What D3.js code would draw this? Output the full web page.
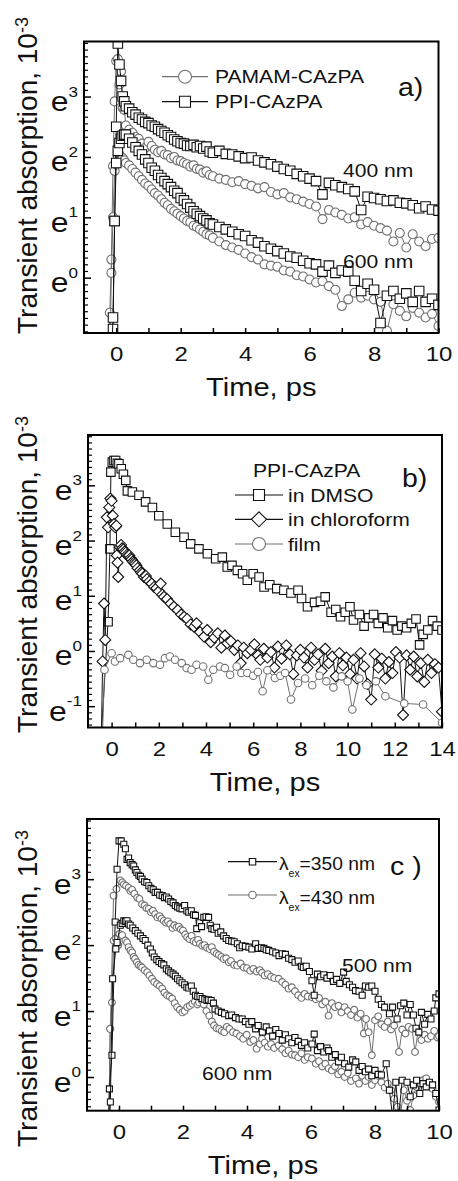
<!DOCTYPE html>
<html>
<head>
<meta charset="utf-8">
<script src="https://cdn.jsdelivr.net/npm/d3@7"></script>
<style>
  body { margin: 0; background: #fff; }
  svg { display: block; }
  text { font-family: "Liberation Sans", Arial, sans-serif; fill: #111; }
</style>
</head>
<body>
<svg id="fig" width="458" height="1181"></svg>
<script>
// ---- panel a) : values are ln(transient absorption / 10^-3) ----
var aTime = [-0.25,-0.2,-0.15,-0.1,-0.05,0,0.05,0.1,0.15,0.2,0.25,0.3,
  0.4,0.5,0.6,0.7,0.8,0.9,1.0,1.1,1.2,1.3,1.4,1.5,1.6,1.7,1.8,1.9,2.0,2.1,2.2,2.3,2.4,2.5,2.6,2.7,2.8,2.9,3.0,
  3.2,3.4,3.6,3.8,4.0,4.2,4.4,4.6,4.8,5.0,5.2,5.4,5.6,5.8,6.0,6.2,6.4,6.6,6.8,7.0,7.2,7.4,7.6,7.8,8.0,8.2,8.4,8.6,8.8,9.0,9.2,9.4,9.6,9.8,10.0];

var aPamam400 = [-1.6,-0.58,0.3,1.85,2.92,3.59,3.62,3.2,3.42,2.81,2.78,2.52,
  2.45,2.40,2.33,2.30,2.22,2.15,2.25,2.18,2.12,2.08,2.10,2.04,2.03,1.98,2.00,1.94,1.93,1.90,1.88,1.84,1.86,1.80,1.79,1.74,1.76,1.70,1.68,
  1.64,1.62,1.58,1.60,1.55,1.52,1.48,1.50,1.42,1.38,1.40,1.33,1.30,1.26,1.22,1.18,0.97,1.12,1.08,1.04,0.98,1.00,0.88,0.92,0.86,0.82,0.78,0.60,0.74,0.50,0.72,0.60,0.52,0.64,0.66];

var aPamam600 = [-1.6,-1.4,0.08,1.0,1.77,1.87,2.02,2.04,1.99,1.98,1.94,1.90,
  1.86,1.80,1.74,1.68,1.62,1.56,1.52,1.46,1.40,1.36,1.30,1.24,1.20,1.14,1.10,1.06,1.02,0.98,0.94,0.92,0.86,0.84,0.80,0.76,0.72,0.70,0.66,
  0.60,0.54,0.50,0.46,0.40,0.34,0.30,0.22,0.20,0.18,0.12,0.10,0.04,0.02,-0.03,-0.08,-0.06,-0.14,-0.20,-0.47,-0.36,-0.25,-0.33,-0.30,-0.36,-0.40,-0.88,-0.44,-0.55,-0.64,-0.50,-0.58,-0.66,-0.60,-0.80];

var aPpi400 = [-1.6,-1.6,-1.4,-0.85,0.94,2.5,3.88,3.53,3.26,3.0,2.92,2.84,
  2.80,2.74,2.70,2.65,2.62,2.58,2.56,2.52,2.50,2.46,2.43,2.40,2.36,2.33,2.29,2.26,2.23,2.22,2.19,2.18,2.20,2.16,2.18,2.14,2.17,2.09,2.07,
  2.10,2.05,2.04,2.01,1.98,1.99,1.94,1.91,1.88,1.84,1.80,1.77,1.72,1.68,1.64,1.60,1.38,1.57,1.53,1.50,1.47,1.43,1.12,1.34,1.32,1.30,1.27,1.28,1.24,1.23,1.20,1.15,1.18,1.13,1.11];

var aPpi600 = [-1.6,-1.6,-1.4,-0.66,0.94,1.9,2.1,2.23,2.3,2.35,2.37,2.37,
  2.30,2.24,2.16,2.10,2.04,1.96,1.90,1.82,1.77,1.70,1.65,1.60,1.55,1.50,1.44,1.40,1.32,1.28,1.22,1.16,1.10,1.06,1.02,0.98,0.95,0.90,0.88,
  0.84,0.80,0.76,0.72,0.69,0.62,0.58,0.52,0.48,0.44,0.40,0.35,0.33,0.28,0.24,0.22,0.10,0.20,0.08,0.12,0.10,-0.05,-0.22,-0.10,-0.20,-0.75,-0.30,-0.22,-0.35,-0.26,-0.40,-0.22,-0.40,-0.35,-0.45];

// ---- panel b) : [time ps, ln value] ----
var bDmso = [[-0.5,-2],[-0.15,0.53],[-0.07,1.85],[-0.03,3.24],[0.03,3.42],[0.1,3.45],[0.17,3.45],[0.24,3.40],[0.31,3.39],[0.41,3.30],
  [0.5,3.20],[0.6,3.09],[0.67,2.90],[0.88,2.88],[1.16,2.82],[1.44,2.70],[1.73,2.60],[2.0,2.45],[2.36,2.30],[2.7,2.15],[3.07,2.06],
  [3.35,1.94],[3.7,1.85],[4.06,1.76],[4.41,1.67],[4.69,1.70],[4.9,1.52],[5.1,1.55],[5.33,1.46],[5.55,1.40],[5.75,1.28],[6.0,1.40],
  [6.25,1.34],[6.46,1.16],[6.7,1.20],[7.0,1.13],[7.3,1.10],[7.6,1.05],[7.9,1.10],[8.05,0.95],[8.3,0.80],[8.6,0.88],[8.85,0.90],
  [9.05,0.98],[9.3,0.70],[9.5,0.75],[9.7,0.62],[9.9,0.70],[10.1,0.80],[10.25,0.56],[10.5,0.66],[10.7,0.45],[10.9,0.60],[11.1,0.66],
  [11.3,0.50],[11.5,0.60],[11.7,0.42],[11.9,0.55],[12.1,0.38],[12.3,0.45],[12.5,0.42],[12.7,0.50],[12.9,0.58],[13.05,0.11],
  [13.2,0.30],[13.4,0.38],[13.6,0.55],[13.8,0.45],[14.0,0.38]];

var bChloroform = [[-0.45,-2.0],[-0.38,-0.19],[-0.32,0.86],[-0.27,0.2],[-0.2,2.42],[-0.15,2.24],[-0.1,2.6],[-0.05,2.76],[0,2.72],
  [0.05,2.45],[0.1,2.3],[0.15,2.24],[0.2,2.27],[0.22,1.73],[0.25,1.6],[0.28,1.34],[0.35,1.88],[0.4,1.92],[0.45,1.86],[0.5,1.84],
  [0.55,1.80],[0.6,1.78],[0.65,1.74],[0.7,1.72],[0.75,1.73],[0.8,1.68],[0.85,1.66],[0.9,1.62],[0.95,1.60],[1.0,1.58],[1.05,1.55],
  [1.1,1.50],[1.2,1.46],[1.25,1.42],[1.3,1.40],[1.37,1.34],[1.45,1.36],[1.5,1.30],[1.6,1.26],[1.7,1.22],[1.8,1.16],[1.9,1.14],
  [2.0,1.08],[2.08,1.22],[2.15,1.02],[2.22,0.98],[2.35,0.94],[2.5,0.86],[2.64,0.80],[2.8,0.74],[2.95,0.66],[3.07,0.62],[3.2,0.58],
  [3.35,0.48],[3.49,0.44],[3.6,0.5],[3.75,0.34],[3.92,0.26],[4.05,0.38],[4.2,0.16],[4.35,0.24],[4.5,0.32],[4.65,0.06],[4.8,0.28],
  [4.9,0.14],[5.05,0.18],[5.2,0.02],[5.35,0.10],[5.47,-0.22],[5.6,0.06],[5.75,-0.04],[5.9,0.02],[6.05,0.12],[6.2,-0.08],[6.3,-0.16],
  [6.45,0.04],[6.6,-0.12],[6.75,-0.02],[6.9,-0.3],[7.05,0.08],[7.2,-0.14],[7.4,0.10],[7.55,-0.06],[7.7,-0.42],[7.85,-0.08],[8.0,0.02],
  [8.15,-0.12],[8.3,-0.3],[8.45,0.06],[8.6,-0.16],[8.75,-0.06],[8.9,-0.36],[9.05,0.04],[9.2,-0.22],[9.35,-0.10],[9.5,-0.46],
  [9.65,-0.04],[9.8,-0.26],[9.95,-0.12],[10.1,-0.42],[10.25,-0.16],[10.4,-0.50],[10.55,-0.04],[10.7,-0.28],[10.85,-0.60],[11.0,-0.88],
  [11.15,-0.06],[11.3,-0.30],[11.45,-0.14],[11.6,-0.50],[11.75,-0.20],[11.9,-0.40],[12.05,-0.02],[12.2,-0.12],[12.35,-1.16],
  [12.5,-0.08],[12.65,-0.34],[12.8,-0.10],[12.95,-0.46],[13.1,-0.22],[13.25,-0.56],[13.4,-0.16],[13.55,-0.40],[13.7,-0.24],
  [13.85,-0.30],[14.0,-1.10]];

var bFilm = [[-0.42,-2.0],[-0.3,-0.34],[0,-0.04],[0.14,-0.19],[0.36,-0.13],[0.71,-0.07],[0.92,-0.16],[1.2,-0.22],[1.49,-0.16],
  [1.77,-0.22],[2.05,-0.25],[2.26,-0.13],[2.47,-0.1],[2.69,-0.16],[2.97,-0.22],[3.18,-0.31],[3.39,-0.34],[3.6,-0.25],[3.88,-0.28],
  [4.1,-0.52],[4.31,-0.34],[4.59,-0.28],[4.8,-0.31],[5.02,-0.43],[5.3,-0.28],[5.5,-0.4],[5.75,-0.4],[6.0,-0.45],[6.2,-0.38],
  [6.4,-0.73],[6.6,-0.35],[6.92,-0.49],[7.15,-0.45],[7.35,-0.4],[7.6,-0.88],[7.9,-0.58],[8.2,-0.5],[8.5,-0.62],[8.8,-0.45],
  [9.1,-0.55],[9.4,-0.66],[9.75,-0.46],[10.0,-0.55],[10.2,-1.06],[10.5,-0.5],[10.8,-0.62],[11.2,-0.55],[11.6,-0.82],[12.4,-0.95],
  [13.2,-0.97],[14.0,-1.3]];

// ---- panel c) : [time ps, ln value] ----
var c350at500 = [[-0.4,-2],[-0.3,-0.18],[-0.22,0.33],[-0.12,2.35],[-0.06,3.15],[0.0,3.58],[0.07,3.58],[0.15,3.53],[0.2,3.46],[0.25,3.30],
  [0.3,3.32],[0.35,3.25],[0.41,3.22],[0.46,3.20],[0.51,3.14],[0.56,3.10],[0.62,3.06],[0.67,3.04],[0.72,3.00],[0.8,2.96],[0.87,2.95],
  [0.93,2.90],[1.0,2.86],[1.07,2.84],[1.13,2.80],[1.2,2.80],[1.27,2.76],[1.35,2.75],[1.42,2.72],[1.48,2.73],[1.55,2.70],[1.62,2.66],
  [1.69,2.64],[1.76,2.60],[1.83,2.58],[1.9,2.56],[1.97,2.55],[2.05,2.60],[2.12,2.52],[2.18,2.50],[2.26,2.52],[2.33,2.46],[2.39,2.45],
  [2.43,2.25],[2.52,2.34],[2.58,2.28],[2.65,2.42],[2.72,2.43],[2.8,2.42],[2.85,2.30],[2.9,2.25],[2.97,2.24],[3.05,2.27],[3.1,2.18],
  [3.18,2.20],[3.27,2.14],[3.35,2.10],[3.43,2.07],[3.52,2.06],[3.6,2.05],[3.7,2.02],[3.77,1.96],[3.85,1.99],[3.95,1.98],[4.06,1.97],
  [4.15,1.94],[4.27,2.02],[4.35,1.95],[4.45,1.96],[4.53,1.95],[4.6,1.93],[4.68,1.92],[4.8,1.90],[4.9,1.88],[5.0,1.84],[5.1,1.87],
  [5.2,1.86],[5.3,1.80],[5.4,1.78],[5.5,1.74],[5.6,1.76],[5.7,1.68],[5.76,1.66],[5.85,1.68],[5.95,1.60],[6.03,1.46],[6.1,1.24],
  [6.2,1.56],[6.3,1.52],[6.4,1.55],[6.5,1.50],[6.6,1.54],[6.7,1.45],[6.8,1.48],[6.9,1.42],[7.02,1.59],[7.1,1.45],[7.2,1.40],
  [7.3,1.36],[7.39,1.31],[7.5,1.30],[7.6,1.24],[7.7,1.38],[7.8,1.36],[7.9,1.38],[8.0,1.30],[8.1,1.18],[8.2,1.10],[8.3,1.06],
  [8.45,0.96],[8.55,1.06],[8.69,0.88],[8.8,1.08],[8.9,1.12],[9.0,0.94],[9.1,1.10],[9.2,0.94],[9.28,0.74],[9.37,0.68],[9.45,0.98],
  [9.55,0.80],[9.65,0.95],[9.75,0.88],[9.85,1.00],[9.9,1.20],[10.0,1.26],[10.05,-1.0]];

var c350at600 = [[-0.4,-2],[-0.27,-0.38],[-0.2,1.49],[-0.1,1.94],[-0.06,2.04],[0.04,2.30],[0.1,2.33],[0.15,2.37],[0.2,2.36],[0.25,2.37],
  [0.3,2.32],[0.35,2.30],[0.43,2.26],[0.51,2.22],[0.59,2.18],[0.67,2.14],[0.75,2.10],[0.82,2.07],[0.9,2.00],[0.98,1.94],[1.04,1.88],
  [1.1,1.82],[1.18,1.78],[1.25,1.75],[1.33,1.72],[1.4,1.70],[1.48,1.64],[1.55,1.61],[1.62,1.58],[1.69,1.56],[1.76,1.53],[1.83,1.49],
  [1.9,1.46],[1.97,1.43],[2.05,1.40],[2.12,1.36],[2.18,1.35],[2.26,1.38],[2.32,1.30],[2.39,1.24],[2.46,1.22],[2.53,1.22],[2.6,1.19],
  [2.68,1.18],[2.75,1.16],[2.8,1.17],[2.88,1.16],[2.95,1.12],[3.0,1.03],[3.1,1.00],[3.2,0.98],[3.3,0.96],[3.43,0.93],[3.52,0.94],
  [3.64,0.90],[3.75,0.88],[3.85,0.88],[3.95,0.84],[4.06,0.80],[4.15,0.84],[4.27,0.73],[4.35,0.78],[4.48,0.68],[4.6,0.76],[4.7,0.70],
  [4.8,0.62],[4.9,0.72],[5.0,0.66],[5.1,0.56],[5.2,0.64],[5.3,0.58],[5.4,0.52],[5.5,0.60],[5.6,0.54],[5.7,0.48],[5.8,0.52],[5.9,0.44],
  [6.03,0.50],[6.1,0.65],[6.2,0.40],[6.3,0.46],[6.4,0.38],[6.5,0.44],[6.55,0.40],[6.65,0.30],[6.76,0.34],[6.86,0.23],[6.95,0.30],
  [7.05,0.20],[7.18,0.15],[7.3,0.26],[7.4,0.23],[7.5,0.10],[7.6,0.16],[7.7,0.08],[7.8,0.12],[7.9,0.02],[8.0,0.10],[8.1,0.04],
  [8.2,0.03],[8.35,0.20],[8.45,-0.20],[8.55,-0.6],[8.65,-0.08],[8.74,-0.6],[8.85,-0.05],[9.0,-0.08],[9.1,-0.30],[9.2,-0.12],
  [9.3,-0.05],[9.4,-0.25],[9.5,-0.10],[9.6,-0.15],[9.7,-0.08],[9.8,-0.12],[9.9,-0.25],[10.0,-0.50]];

var c430at500 = [[-0.35,-2],[-0.27,0.73],[-0.17,2.75],[-0.08,2.85],[0.04,2.98],[0.1,2.95],[0.15,2.92],[0.22,2.90],[0.3,2.87],[0.36,2.82],
  [0.41,2.84],[0.48,2.78],[0.57,2.72],[0.64,2.70],[0.72,2.62],[0.8,2.60],[0.86,2.56],[0.93,2.55],[1.0,2.50],[1.06,2.52],[1.13,2.47],
  [1.2,2.42],[1.27,2.44],[1.33,2.40],[1.4,2.37],[1.47,2.34],[1.53,2.36],[1.6,2.32],[1.67,2.26],[1.73,2.30],[1.8,2.27],[1.87,2.28],
  [1.93,2.24],[2.0,2.22],[2.07,2.16],[2.13,2.12],[2.2,2.09],[2.27,2.14],[2.33,2.06],[2.4,2.04],[2.47,2.08],[2.53,2.02],[2.6,1.99],
  [2.67,2.00],[2.75,1.96],[2.83,1.94],[2.9,1.97],[2.97,1.90],[3.05,1.87],[3.12,1.85],[3.2,1.82],[3.27,1.79],[3.35,1.80],[3.43,1.74],
  [3.5,1.76],[3.6,1.70],[3.69,1.69],[3.8,1.72],[3.9,1.66],[4.0,1.65],[4.1,1.61],[4.2,1.64],[4.3,1.60],[4.4,1.62],[4.47,1.58],
  [4.55,1.54],[4.65,1.56],[4.75,1.52],[4.85,1.50],[4.99,1.49],[5.1,1.44],[5.2,1.40],[5.3,1.34],[5.4,1.36],[5.5,1.30],[5.6,1.24],
  [5.7,1.20],[5.8,1.26],[5.9,1.22],[6.03,1.21],[6.15,1.18],[6.25,1.20],[6.35,1.10],[6.45,1.14],[6.55,0.93],[6.65,1.12],[6.75,1.06],
  [6.86,1.08],[6.95,0.98],[7.05,1.06],[7.15,1.00],[7.25,0.94],[7.35,1.02],[7.45,0.90],[7.55,0.96],[7.65,0.66],[7.72,0.88],[7.8,0.68],
  [7.9,0.33],[8.0,0.86],[8.1,0.92],[8.2,0.80],[8.3,0.76],[8.4,0.84],[8.5,0.72],[8.6,0.78],[8.75,0.38],[8.85,0.72],[8.95,0.66],
  [9.05,0.76],[9.16,0.73],[9.25,0.38],[9.35,0.70],[9.45,0.56],[9.55,0.64],[9.65,0.58],[9.75,0.62],[9.85,0.70],[9.95,0.60],[10.0,0.62]];

var c430at600 = [[-0.35,-2],[-0.28,0.73],[-0.22,1.13],[-0.17,2.07],[-0.1,2.10],[-0.02,2.00],[0.01,2.17],[0.1,2.15],[0.2,2.07],[0.25,2.04],
  [0.3,1.97],[0.36,1.92],[0.41,1.89],[0.46,1.82],[0.5,1.79],[0.56,1.74],[0.61,1.70],[0.67,1.68],[0.72,1.66],[0.8,1.62],[0.88,1.59],
  [0.95,1.54],[1.03,1.49],[1.1,1.44],[1.19,1.41],[1.27,1.38],[1.35,1.34],[1.42,1.28],[1.5,1.24],[1.58,1.22],[1.66,1.19],[1.74,1.12],
  [1.82,1.06],[1.9,1.02],[1.98,0.98],[2.05,1.00],[2.13,1.06],[2.21,1.08],[2.29,1.11],[2.37,1.14],[2.45,1.10],[2.5,1.13],[2.58,1.16],
  [2.65,1.10],[2.73,1.00],[2.82,0.93],[2.9,0.84],[2.97,0.78],[3.05,0.74],[3.13,0.73],[3.21,0.70],[3.29,0.68],[3.37,0.76],[3.45,0.73],
  [3.56,0.68],[3.67,0.66],[3.78,0.62],[3.88,0.58],[3.99,0.64],[4.1,0.53],[4.2,0.56],[4.3,0.43],[4.4,0.50],[4.47,0.58],[4.55,0.52],
  [4.65,0.46],[4.75,0.50],[4.85,0.44],[4.99,0.48],[5.1,0.42],[5.2,0.36],[5.3,0.40],[5.4,0.34],[5.5,0.33],[5.6,0.30],[5.7,0.36],
  [5.8,0.26],[5.9,0.30],[6.03,0.28],[6.15,0.20],[6.25,0.24],[6.35,0.16],[6.45,0.20],[6.55,0.13],[6.65,0.10],[6.75,0.16],[6.85,0.04],
  [6.95,0.08],[7.05,0.00],[7.15,0.06],[7.25,-0.06],[7.4,-0.02],[7.5,-0.10],[7.6,0.02],[7.7,-0.06],[7.8,0.00],[7.9,-0.12],[8.0,-0.05],
  [8.1,0.02],[8.2,-0.08],[8.3,-0.16],[8.4,-0.10],[8.5,-0.20],[8.6,-0.33],[8.7,-0.45],[8.8,-0.55],[8.9,-0.20],[9.0,-0.36],[9.1,-0.50],
  [9.2,-0.28],[9.3,-0.15],[9.4,-0.10],[9.5,-0.05],[9.6,-0.02],[9.7,-0.12],[9.8,-0.18],[9.9,-0.30],[10.0,-0.38]];

var BLACK = "#111";
var GRAY = "#707070";
var SX = 1.14;   // the scanned lettering is stretched sideways a little

function zip(times, vals) {
    return times.map(function (t, i) { return [t, vals[i]]; });
}

// marker outline centred on 0,0; s = width in px
function markerPath(type, s)
{
    var r = s / 2;
    if (type == "square")  return "M" + (-r) + "," + (-r) + "h" + s + "v" + s + "h" + (-s) + "Z";
    if (type == "diamond") return "M0," + (-r) + "L" + r + ",0L0," + r + "L" + (-r) + ",0Z";
    return "M" + r + ",0A" + r + "," + r + " 0 1,1 " + (-r) + ",0A" + r + "," + r + " 0 1,1 " + r + ",0Z";
}

function hText(g, x, y, str, size, anchor)
{
    return g.append("text")
        .attr("transform", "translate(" + x + "," + y + ") scale(" + SX + ",1)")
        .attr("text-anchor", anchor || "start")
        .style("font-size", size + "px")
        .text(str);
}

function drawPanel(p)
{
    var svg = d3.select("#fig");
    var g = svg.append("g");

    var x = d3.scaleLinear().domain(p.xDomain).range([p.left, p.right]);
    var y = d3.scaleLinear().domain([Math.log(p.yMin), Math.log(p.yMax)]).range([p.bottom, p.top]);

    svg.append("clipPath").attr("id", "clip-" + p.id)
        .append("rect")
        .attr("x", p.left).attr("y", p.top)
        .attr("width", p.right - p.left).attr("height", p.bottom - p.top);

    // data
    var plot = g.append("g").attr("clip-path", "url(#clip-" + p.id + ")");
    var line = d3.line().x(function (d) { return x(d[0]); }).y(function (d) { return y(d[1]); });

    p.series.forEach(function (s) {
        plot.append("path")
            .datum(s.points)
            .attr("d", line)
            .attr("fill", "none")
            .attr("stroke", s.color)
            .attr("stroke-width", 1);

        plot.selectAll(null)
            .data(s.points)
            .enter().append("path")
            .attr("transform", function (d) { return "translate(" + x(d[0]) + "," + y(d[1]) + ")"; })
            .attr("d", markerPath(s.marker, s.size))
            .attr("fill", "#fff")
            .attr("stroke", s.color)
            .attr("stroke-width", 1.1);
    });

    // x axis, ticks pointing in
    var xa = g.append("g")
        .attr("transform", "translate(0," + p.bottom + ")")
        .call(d3.axisBottom(x)
            .tickValues(d3.range(0, p.xDomain[1] + 0.5, 1))
            .tickSizeInner(-5).tickSizeOuter(0)
            .tickFormat(function (d) { return d % 2 === 0 ? d : ""; }));
    xa.attr("font-size", null).attr("font-family", null);
    xa.select(".domain").remove();
    xa.selectAll("line").attr("stroke", "#000").attr("stroke-width", 1.5);
    xa.selectAll("text")
        .attr("y", 28.5).attr("dy", null)
        .attr("transform", "scale(" + SX + ",1)")
        .style("font-size", "21px");

    // y axis: major ticks at whole powers of e, 8 minor ticks between
    var lo = y.domain()[0], hi = y.domain()[1];
    var majors = d3.range(Math.ceil(lo), Math.floor(hi) + 1);
    var minors = [];
    d3.range(Math.floor(lo), Math.ceil(hi) + 1).forEach(function (n) {
        for (var k = 1; k < 9; k++) {
            var v = n + k / 9;
            if (v > lo && v < hi) minors.push(v);
        }
    });

    var ya = g.append("g").attr("transform", "translate(" + p.left + ",0)")
        .call(d3.axisLeft(y).tickValues(majors).tickSizeInner(-7).tickSizeOuter(0).tickFormat(""));
    ya.select(".domain").remove();
    ya.selectAll("line").attr("stroke", "#000").attr("stroke-width", 1.5);

    var ym = g.append("g").attr("transform", "translate(" + p.left + ",0)")
        .call(d3.axisLeft(y).tickValues(minors).tickSizeInner(-4).tickSizeOuter(0).tickFormat(""));
    ym.select(".domain").remove();
    ym.selectAll("line").attr("stroke", "#000").attr("stroke-width", 1.2);

    majors.forEach(function (n) {
        var t = g.append("text")
            .attr("transform", "translate(" + (p.left - 6) + "," + (y(n) + 14.5) + ") scale(" + SX + ",1)")
            .attr("text-anchor", "end");
        t.append("tspan").style("font-size", "28px").text("e");
        t.append("tspan").attr("dy", -14.5).style("font-size", "15px").text(n);
    });

    // frame
    g.append("rect")
        .attr("x", p.left).attr("y", p.top)
        .attr("width", p.right - p.left).attr("height", p.bottom - p.top)
        .attr("fill", "none").attr("stroke", "#000").attr("stroke-width", 2);

    // titles
    hText(g, (p.left + p.right) / 2, p.bottom + 63, "Time, ps", 25.5, "middle");

    var yt = g.append("text")
        .attr("transform", "translate(37," + p.yTitleStart + ") rotate(-90)")
        .style("font-size", "28px");
    yt.append("tspan").text("Transient absorption, 10");
    yt.append("tspan").attr("dy", -9).style("font-size", "18px").text("-3");

    hText(g, p.tag[0], p.tag[1], p.tag[2], 25);

    p.notes.forEach(function (n) { hText(g, n[0], n[1], n[2], 18.5); });

    // legend
    var lg = p.legend;
    if (lg.title) hText(g, lg.title[0], lg.title[1], lg.title[2], 18.5);
    lg.rows.forEach(function (r) {
        var mid = (lg.x1 + lg.x2) / 2;
        g.append("line")
            .attr("x1", lg.x1).attr("x2", lg.x2).attr("y1", r.y).attr("y2", r.y)
            .attr("stroke", r.color).attr("stroke-width", 1.2);
        g.append("path")
            .attr("transform", "translate(" + mid + "," + r.y + ")")
            .attr("d", markerPath(r.marker, r.size))
            .attr("fill", "#fff").attr("stroke", r.color).attr("stroke-width", 1.1);
        if (r.sub) {
            // lambda with a small "ex" subscript, a bit narrower than the rest
            var t = g.append("text")
                .attr("transform", "translate(" + lg.tx + "," + (r.y + 8.5) + ") scale(1.04,1)")
                .style("font-size", "18.5px");
            t.append("tspan").text(r.text);
            t.append("tspan").attr("dy", 7).style("font-size", "10px").text(r.sub);
            t.append("tspan").attr("dy", -7).text(r.rest);
        } else {
            hText(g, lg.tx, r.y + 6.5, r.text, 18.5);
        }
    });
}

drawPanel({
    id: "a", left: 84, right: 438.5, top: 41.5, bottom: 333,
    xDomain: [-1, 10], yMin: 0.4, yMax: 50, yTitleStart: 334,
    series: [
        { points: zip(aTime, aPamam400), marker: "circle", size: 9, color: GRAY },
        { points: zip(aTime, aPamam600), marker: "circle", size: 9, color: GRAY },
        { points: zip(aTime, aPpi400), marker: "square", size: 9.5, color: BLACK },
        { points: zip(aTime, aPpi600), marker: "square", size: 9.5, color: BLACK }
    ],
    tag: [398, 96, "a)"],
    notes: [[343, 177, "400 nm"], [343, 268, "600 nm"]],
    legend: { x1: 162, x2: 208, tx: 215, rows: [
        { y: 76.7, marker: "circle", size: 13, color: GRAY, text: "PAMAM-CAzPA" },
        { y: 101.7, marker: "square", size: 11, color: BLACK, text: "PPI-CAzPA" }
    ] }
});

drawPanel({
    id: "b", left: 88, right: 442, top: 435, bottom: 727.5,
    xDomain: [-1, 14], yMin: 0.25, yMax: 50, yTitleStart: 733,
    series: [
        { points: bDmso, marker: "square", size: 8.5, color: BLACK },
        { points: bChloroform, marker: "diamond", size: 11, color: BLACK },
        { points: bFilm, marker: "circle", size: 7.5, color: GRAY }
    ],
    tag: [402, 487, "b)"],
    notes: [],
    legend: { x1: 235, x2: 283, tx: 288, title: [253, 477, "PPI-CAzPA"], rows: [
        { y: 495, marker: "square", size: 11, color: BLACK, text: "in DMSO" },
        { y: 519.3, marker: "diamond", size: 15, color: BLACK, text: "in chloroform" },
        { y: 544, marker: "circle", size: 13, color: GRAY, text: "film" }
    ] }
});

drawPanel({
    id: "c", left: 87, right: 439, top: 819, bottom: 1110.7,
    xDomain: [-1, 10], yMin: 0.6, yMax: 50, yTitleStart: 1147,
    series: [
        { points: c430at500, marker: "circle", size: 6.8, color: GRAY },
        { points: c430at600, marker: "circle", size: 6.8, color: GRAY },
        { points: c350at500, marker: "square", size: 6, color: BLACK },
        { points: c350at600, marker: "square", size: 6, color: BLACK }
    ],
    tag: [390, 875, "c )"],
    notes: [[342, 972, "500 nm"], [202, 1080, "600 nm"]],
    legend: { x1: 228, x2: 277, tx: 279, rows: [
        { y: 861.7, marker: "square", size: 6.5, color: BLACK, text: "\u03bb", sub: "ex", rest: "=350 nm" },
        { y: 895, marker: "circle", size: 7.5, color: GRAY, text: "\u03bb", sub: "ex", rest: "=430 nm" }
    ] }
});
</script>
</body>
</html>
